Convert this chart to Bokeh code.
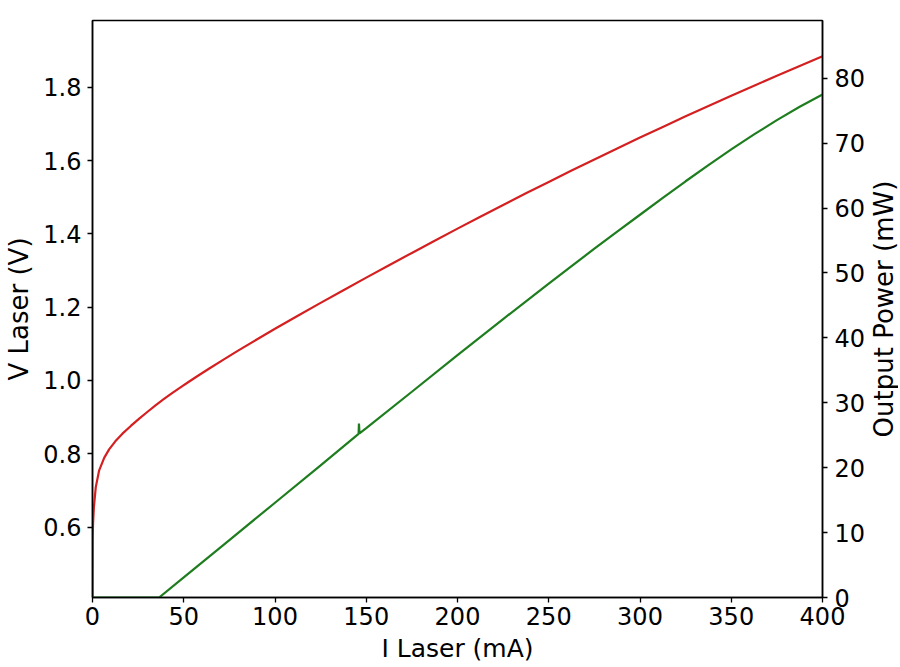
import math
from bokeh.plotting import figure
from bokeh.layouts import row
from bokeh.models import Range1d, LinearAxis, FixedTicker, PrintfTickFormatter
from bokeh.core.properties import value
from bokeh.embed import file_html
from bokeh.resources import INLINE

# ---- data ----
current_v = [0, 0.05, 0.1, 0.3, 0.75, 1.8, 3.65, 6.4, 9.1, 12.5, 16.4, 21, 25.6, 30, 34.7,
             39, 43.8, 48, 53, 58, 64, 72, 80, 90, 100, 112.5, 125, 137.5, 150, 162.5,
             175, 187.5, 200, 212.5, 225, 237.5, 250, 262.5, 275, 287.5, 300, 312.5, 325,
             337.5, 350, 362.5, 375, 387.5, 400]
voltage = [0.41, 0.50, 0.564, 0.61, 0.654, 0.709, 0.755, 0.789, 0.812, 0.834, 0.855, 0.876,
           0.896, 0.914, 0.9328, 0.9489, 0.9661, 0.9806, 0.9973, 1.0135, 1.0326, 1.0576,
           1.082, 1.1118, 1.141, 1.1766, 1.2117, 1.2463, 1.2806, 1.3145, 1.348, 1.3813,
           1.4142, 1.4467, 1.4788, 1.5105, 1.5417, 1.5726, 1.603, 1.633, 1.6626, 1.6917,
           1.7205, 1.7488, 1.7767, 1.8042, 1.8313, 1.858, 1.8842]

current_p = [0, 36.5, 50, 75, 100, 125, 145.8, 146, 146.3, 150, 175, 200, 225, 250, 262.5,
             275, 287.5, 300, 312.5, 325, 337.5, 350, 362.5, 375, 387.5, 400]
power = [0, 0, 3.1, 8.85, 14.6, 20.35, 25.2, 26.8, 25.3, 26.1, 31.7, 37.35, 42.9, 48.35,
         51.06, 53.74, 56.38, 58.97, 61.57, 64.13, 66.63, 69.04, 71.35, 73.55, 75.6, 77.5]

x_ticks = [0, 50, 100, 150, 200, 250, 300, 350, 400]
v_ticks = [0.6, 0.8, 1.0, 1.2, 1.4, 1.6, 1.8]
p_ticks = [0, 10, 20, 30, 40, 50, 60, 70, 80]

x_label = "I Laser (mA)"
v_label = "V Laser (V)"
p_label = "Output Power (mW)"

FONT = "DejaVu Sans"
TOP, FRAME_H, BOTTOM = 20, 577, 64

p = figure(frame_width=730, frame_height=FRAME_H,
           x_range=Range1d(0, 400), y_range=Range1d(0.408, 1.982),
           output_backend="svg", toolbar_location=None,
           min_border_left=92, min_border_right=44, min_border_top=TOP,
           min_border_bottom=BOTTOM)
p.extra_y_ranges = {"power": Range1d(0, 88.9)}

p.xgrid.visible = False
p.ygrid.visible = False
p.outline_line_color = "black"
p.outline_line_width = 1.5
p.outline_line_alpha = 1.0
p.background_fill_color = "white"
p.border_fill_color = "white"

p.line(current_v, voltage, line_color="#d42020", line_width=2.2)
p.line(current_p, power, line_color="#1e7d1e", line_width=2.2, y_range_name="power")

right_axis = LinearAxis(y_range_name="power")
p.add_layout(right_axis, "right")


def style(ax, label, ticks, label_size):
    ax.axis_label = label
    ax.ticker = FixedTicker(ticks=ticks)
    ax.minor_tick_line_color = None
    ax.major_tick_in = 0
    ax.major_tick_out = 5
    ax.major_tick_line_width = 1.3
    ax.major_tick_line_color = "black"
    ax.axis_line_color = "black"
    ax.axis_line_width = 1.5
    ax.major_label_text_font = FONT
    ax.major_label_text_font_size = "24px"
    ax.major_label_text_color = "black"
    ax.axis_label_text_font = FONT
    ax.axis_label_text_font_size = label_size
    ax.axis_label_text_font_style = "normal"
    ax.axis_label_text_color = "black"


style(p.xaxis[0], x_label, x_ticks, "25px")
p.xaxis[0].major_label_standoff = 4
p.xaxis[0].axis_label_standoff = 6

style(p.yaxis[0], v_label, v_ticks, "26px")
p.yaxis[0].formatter = PrintfTickFormatter(format="%.1f")
p.yaxis[0].major_label_standoff = 6
p.yaxis[0].axis_label_standoff = 6

style(right_axis, None, p_ticks, "26px")
right_axis.major_label_standoff = 7

# narrow strip to the right holding the right-hand axis title (bottom-to-top)
t = figure(frame_width=30, frame_height=FRAME_H,
           x_range=Range1d(0, 1), y_range=Range1d(0, 1),
           output_backend="svg", toolbar_location=None,
           min_border_left=0, min_border_right=0, min_border_top=TOP,
           min_border_bottom=BOTTOM)
t.xaxis.visible = False
t.yaxis.visible = False
t.xgrid.visible = False
t.ygrid.visible = False
t.outline_line_color = None
t.background_fill_color = "white"
t.border_fill_color = "white"
t.text(x=[0.5], y=[0.5], text=[p_label], angle=math.pi / 2,
       text_align="center", text_baseline="middle",
       text_font=value(FONT), text_font_size=value("26px"), text_color="black")

layout = row(p, t, spacing=0)
open("out.html", "w").write(file_html(layout, INLINE))
